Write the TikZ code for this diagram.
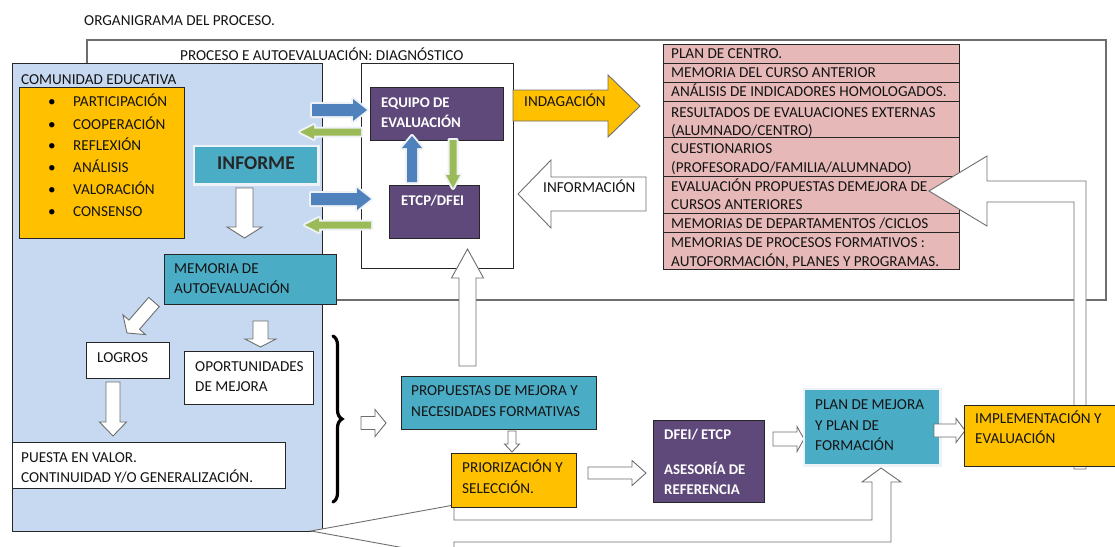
\documentclass[tikz,border=0pt]{standalone}
\usepackage{fontspec}
\setmainfont{Carlito}
\usetikzlibrary{decorations.pathreplacing}
\definecolor{commblue}{HTML}{C6D9F1}
\definecolor{orangec}{HTML}{FFC000}
\definecolor{tealc}{HTML}{4BACC6}
\definecolor{purplec}{HTML}{5F497A}
\definecolor{pinkc}{HTML}{E6B9B8}
\definecolor{arrblue}{HTML}{4F81BD}
\definecolor{arrgreen}{HTML}{9BBB59}
\definecolor{glowc}{HTML}{EEF2F6}
\definecolor{linegray}{HTML}{6E6E6E}
\tikzset{
 txt/.style={anchor=base west, inner sep=0pt, font=\fontsize{15.2}{18}\selectfont, text=black!92},
 wtxt/.style={anchor=base west, inner sep=0pt, font=\fontsize{14.8}{17}\selectfont\bfseries, text=white},
 frame/.style={draw=black!85, line width=0.9pt},
 outerf/.style={draw=linegray, line width=1.5pt},
 barr/.style={fill=white, draw=linegray, line width=0.9pt, line join=miter},
 oarr/.style={fill=orangec, draw=linegray, line width=0.9pt, line join=miter},
 glowb/.style={fill=arrblue, preaction={draw=glowc, line width=4pt, line join=round}},
 glowg/.style={fill=arrgreen, preaction={draw=glowc, line width=4pt, line join=round}},
}
% box node: style, x1, y1, x2, y2, name
\newcommand\boxat[6]{\node[#1, anchor=north west, inner sep=0pt, minimum width={#4-#2}, minimum height={#5-#3}] (#6) at (#2,#3) {};}
% block arrow: style, x1,y1, x2,y2, shaft half width, head half width, head length
\newcommand\barrow[8]{%
 \pgfmathsetmacro\myL{veclen(#4-#2,#5-#3)}%
 \pgfmathsetmacro\myA{atan2(#3-#5,#4-#2)}%
 \path[#1,shift={(#2,#3)},rotate=\myA] (0,-#6) -- (\myL-#8,-#6) -- (\myL-#8,-#7) -- (\myL,0) -- (\myL-#8,#7) -- (\myL-#8,#6) -- (0,#6) -- cycle;}
\begin{document}
\begin{tikzpicture}[x=1pt,y=-1pt]
\useasboundingbox (0,0) rectangle (1115,546);
% title
\node[txt] (title) at (84,25) {ORGANIGRAMA DEL PROCESO.};
% outer frame
\boxat{outerf}{86}{39}{1105}{299}{outer}
\node[txt] (outert) at (180,60) {PROCESO E AUTOEVALUACIÓN: DIAGNÓSTICO};

% community box
\boxat{frame,fill=commblue}{12}{63}{322}{531}{comm}
\node[txt] (commt) at (21,84) {COMUNIDAD EDUCATIVA};
\boxat{frame,fill=orangec}{19}{87}{184}{238}{vals}
\foreach \t/\y in {PARTICIPACIÓN/106,COOPERACIÓN/129,REFLEXIÓN/150,ANÁLISIS/172,VALORACIÓN/194,CONSENSO/216}{
 \node[anchor=base, inner sep=0pt, font=\fontsize{15.2}{18}\selectfont] (b\y) at (52,\y) {\textbullet};
 \node[txt] (v\y) at (73,\y) {\t};
}
% INFORME
\node[fill=tealc, preaction={draw=glowc, line width=5pt}, anchor=north west, inner sep=0pt, minimum width=122, minimum height=36] (informe) at (195,147) {};
\node[font=\fontsize{19.5}{22}\selectfont\bfseries, text=black!85, inner sep=0pt] (informet) at (256,163) {INFORME};
\barrow{barr,draw}{244.5}{188}{244.5}{238}{8.5}{17.5}{11}

% memoria
\boxat{frame,fill=tealc}{164}{254}{336}{304}{memoria}
\node[txt] (mem1) at (174,273) {MEMORIA DE};
\node[txt] (mem2) at (174,293) {AUTOEVALUACIÓN};
\barrow{barr,draw}{154}{302}{127}{333}{7}{15}{11}
\barrow{barr,draw}{260.5}{321}{260.5}{347}{7.5}{15.5}{8}
\boxat{frame,fill=white}{86}{342}{169}{378}{logros}
\node[txt] (logrost) at (97,362) {LOGROS};
\boxat{frame,fill=white}{184}{351}{313}{404}{oport}
\node[txt] (op1) at (195,371) {OPORTUNIDADES};
\node[txt] (op2) at (195,391) {DE MEJORA};
\barrow{barr,draw}{113}{382}{113}{436}{7}{13.5}{14}
\boxat{frame,fill=white}{12}{442}{285}{488}{puesta}
\node[txt] (pu1) at (21,462) {PUESTA EN VALOR.};
\node[txt] (pu2) at (21,482) {CONTINUIDAD Y/O GENERALIZACIÓN.};

% brace
\draw[decorate, decoration={brace, amplitude=9pt}, line width=3.2pt, line cap=round] (333,336) -- (333,502);
\barrow{barr,draw}{361}{423}{386}{423}{6.5}{13.5}{11}

% middle box
\boxat{frame,fill=white}{361}{63}{513}{268}{mid}
\boxat{frame,fill=purplec}{370}{87}{503}{140}{equipo}
\node[wtxt] (eq1) at (381,107) {EQUIPO DE};
\node[wtxt] (eq2) at (381,127) {EVALUACIÓN};
\boxat{frame,fill=purplec}{389}{185}{479}{238}{etcp}
\node[wtxt] (etcpt) at (401,205) {ETCP/DFEI};
\barrow{glowb}{312}{110}{367}{110}{6}{11}{14}
\barrow{glowg}{361}{132}{300}{132}{3.5}{7}{14}
\barrow{glowb}{412}{182}{412}{136}{5}{10}{12}
\barrow{glowg}{453}{140}{453}{188}{3.5}{7}{13}
\barrow{glowb}{311}{199}{371}{199}{6}{11}{14}
\barrow{glowg}{371}{225}{305}{225}{3.5}{7}{14}

% indagacion / informacion
\draw[oarr] (513,90) -- (608,90) -- (608,75) -- (640,106) -- (608,137) -- (608,121) -- (513,121) -- cycle;
\node[txt] (indag) at (524,106) {INDAGACIÓN};
\draw[barr] (646,177) -- (551,177) -- (551,160) -- (518,194) -- (551,228) -- (551,211) -- (646,211) -- cycle;
\node[txt] (infor) at (543,192) {INFORMACIÓN};

% table
\foreach \a/\b/\n in {44/63/1,63/82/2,82/101/3,101/137/4,137/176/5,176/213/6,213/232/7,232/269/8}{
 \boxat{frame,fill=pinkc}{663}{\a}{959}{\b}{row\n}
}
\node[txt] (r1) at (671,58.5) {PLAN DE CENTRO.};
\node[txt] (r2) at (671,77.5) {MEMORIA DEL CURSO ANTERIOR};
\node[txt] (r3) at (671,96.5) {ANÁLISIS DE INDICADORES HOMOLOGADOS.};
\node[txt] (r4a) at (671,117) {RESULTADOS DE EVALUACIONES EXTERNAS};
\node[txt] (r4b) at (671,135) {(ALUMNADO/CENTRO)};
\node[txt] (r5a) at (671,153) {CUESTIONARIOS};
\node[txt] (r5b) at (671,172) {(PROFESORADO/FAMILIA/ALUMNADO)};
\node[txt] (r6a) at (671,191) {EVALUACIÓN PROPUESTAS DEMEJORA DE};
\node[txt] (r6b) at (671,209) {CURSOS ANTERIORES};
\node[txt] (r7) at (671,228) {MEMORIAS DE DEPARTAMENTOS /CICLOS};
\node[txt] (r8a) at (671,247) {MEMORIAS DE PROCESOS FORMATIVOS :};
\node[txt] (r8b) at (671,266) {AUTOFORMACIÓN, PLANES Y PROGRAMAS.};

% feedback arrow from implementation to table
\draw[barr] (1074,469) -- (1074,202) -- (987,202) -- (987,226) -- (929,191) -- (987,156) -- (987,181) -- (1086,181) -- (1086,469) -- cycle;

% bottom U arrow
\draw[barr] (311,531) -- (454,505) -- (454,520) -- (872,520) -- (872,482) -- (862,482) -- (881,468) -- (901,482) -- (891,482) -- (891,542) -- (454,542) -- (454,557) -- cycle;

% lower flow
\barrow{barr,draw}{467.5}{366}{467.5}{249}{8.5}{16}{29}
\boxat{frame,fill=tealc}{401}{376}{596}{429}{prop}
\node[txt] (pr1) at (411,395) {PROPUESTAS DE MEJORA Y};
\node[txt] (pr2) at (411,416) {NECESIDADES FORMATIVAS};
\barrow{barr,draw}{512}{431}{512}{452}{4}{7.5}{8}
\boxat{frame,fill=orangec}{451}{453}{576}{507}{prior}
\node[txt] (pz1) at (462,472) {PRIORIZACIÓN Y};
\node[txt] (pz2) at (462,493) {SELECCIÓN.};
\barrow{barr,draw}{588}{473}{646}{473}{6}{12.5}{14}
\boxat{frame,fill=purplec}{653}{420}{764}{502}{dfei}
\node[wtxt] (df1) at (664,439) {DFEI/ ETCP};
\node[wtxt] (df2) at (664,474) {ASESORÍA DE};
\node[wtxt] (df3) at (664,494) {REFERENCIA};
\barrow{barr,draw}{773}{439}{804}{439}{7}{12.5}{7}
\node[fill=tealc, preaction={draw=glowc, line width=5pt}, anchor=north west, inner sep=0pt, minimum width=134, minimum height=74] (plan) at (805,390) {};
\node[txt] (pl1) at (815,409) {PLAN DE MEJORA};
\node[txt] (pl2) at (815,430) {Y PLAN DE};
\node[txt] (pl3) at (815,450) {FORMACIÓN};
\barrow{barr,draw}{934}{430.5}{965}{430.5}{6.5}{12}{9}
\boxat{frame,fill=orangec}{964}{405}{1125}{466}{impl}
\node[txt] (im1) at (975,423) {IMPLEMENTACIÓN Y};
\node[txt] (im2) at (975,443) {EVALUACIÓN};
\end{tikzpicture}
\end{document}
